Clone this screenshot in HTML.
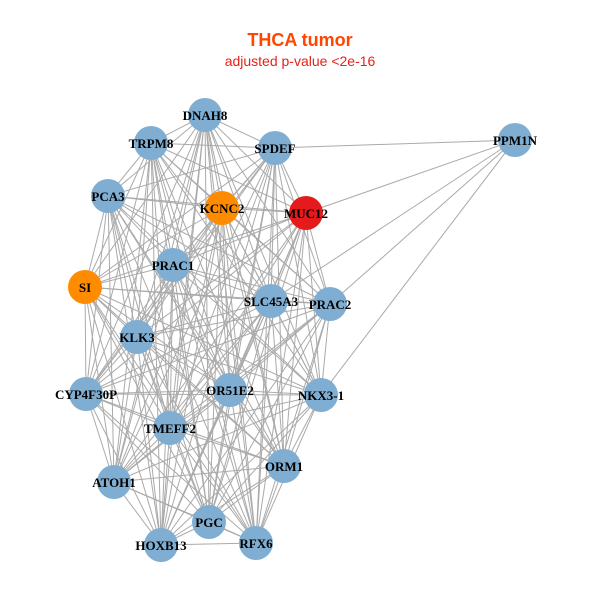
<!DOCTYPE html>
<html><head><meta charset="utf-8"><style>
html,body{margin:0;padding:0;background:#fff;width:600px;height:600px;overflow:hidden}
svg{display:block}
</style></head><body>
<svg id="g" width="600" height="600" xmlns="http://www.w3.org/2000/svg">
<text x="300" y="46" text-anchor="middle" font-family="Liberation Sans, sans-serif" font-weight="bold" font-size="18" fill="#FF4500">THCA tumor</text>
<text x="300" y="66" text-anchor="middle" font-family="Liberation Sans, sans-serif" font-size="14" fill="#E8201A">adjusted p-value &lt;2e-16</text>
<g id="edges" stroke="#aaaaaa" stroke-width="1"></g>
<g id="nodes"></g>
</svg>
<script>
var N={
"DNAH8":[205,115,"b"],"TRPM8":[151,143,"b"],"SPDEF":[275,148,"b"],"PPM1N":[515,140,"b"],
"PCA3":[108,196,"b"],"KCNC2":[222,208,"o"],"MUC12":[306,213,"r"],"PRAC1":[173,265,"b"],
"SI":[85,287,"o"],"SLC45A3":[271,301,"b"],"PRAC2":[330,304,"b"],"KLK3":[137,337,"b"],
"CYP4F30P":[86,394,"b"],"OR51E2":[230,390,"b"],"NKX3-1":[321,395,"b"],"TMEFF2":[170,428,"b"],
"ATOH1":[114,482,"b"],"ORM1":[284,466,"b"],"PGC":[209,522,"b"],"HOXB13":[161,545,"b"],"RFX6":[256,543,"b"]};
var col={b:"#7FAED2",o:"#FF8C00",r:"#E41A1C"};
var names=Object.keys(N),ns="http://www.w3.org/2000/svg";
var E=document.getElementById("edges"),G=document.getElementById("nodes");
function line(a,b){var l=document.createElementNS(ns,"line");l.setAttribute("x1",N[a][0]);l.setAttribute("y1",N[a][1]);l.setAttribute("x2",N[b][0]);l.setAttribute("y2",N[b][1]);E.appendChild(l);}
for(var i=0;i<names.length;i++)for(var j=i+1;j<names.length;j++){
 if(names[i]=="PPM1N"||names[j]=="PPM1N")continue; line(names[i],names[j]);}
["SPDEF","MUC12","SLC45A3","PRAC2","NKX3-1"].forEach(function(n){line("PPM1N",n);});
names.forEach(function(n){var c=document.createElementNS(ns,"circle");c.setAttribute("cx",N[n][0]);c.setAttribute("cy",N[n][1]);c.setAttribute("r",17);c.setAttribute("fill",col[N[n][2]]);G.appendChild(c);});
names.forEach(function(n){var t=document.createElementNS(ns,"text");t.setAttribute("x",N[n][0]);t.setAttribute("y",N[n][1]+5);t.setAttribute("text-anchor","middle");t.setAttribute("font-family","Liberation Serif, serif");t.setAttribute("font-weight","bold");t.setAttribute("font-size","13");t.setAttribute("fill","#000");t.textContent=n;G.appendChild(t);});
</script>
</body></html>
